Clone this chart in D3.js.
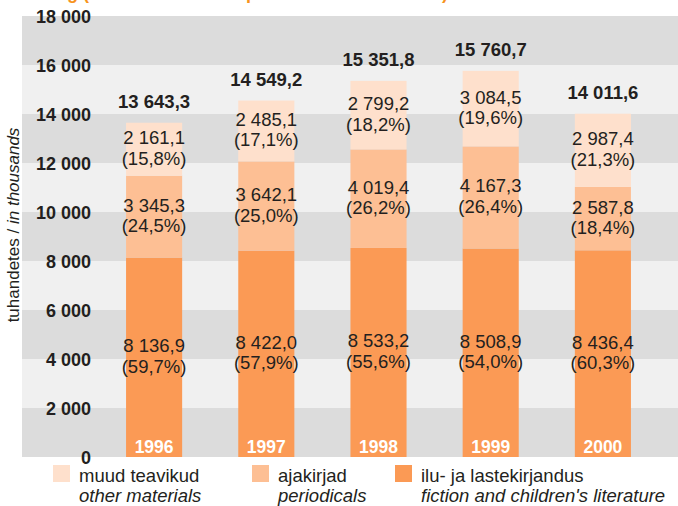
<!DOCTYPE html>
<html>
<head>
<meta charset="utf-8">
<script src="https://cdn.jsdelivr.net/npm/d3@7"></script>
<style>
  body { margin: 0; background: #fff; }
  svg { display: block; font-family: "Liberation Sans", Arial, sans-serif; }
</style>
</head>
<body>
<div id="chart"></div>
<script>
// data (thousands)
var years       = ["1996", "1997", "1998", "1999", "2000"];
var fiction     = [8136.9, 8422.0, 8533.2, 8508.9, 8436.4];
var periodicals = [3345.3, 3642.1, 4019.4, 4167.3, 2587.8];
var other       = [2161.1, 2485.1, 2799.2, 3084.5, 2987.4];
var fictionPct  = [59.7, 57.9, 55.6, 54.0, 60.3];
var periodPct   = [24.5, 25.0, 26.2, 26.4, 18.4];
var otherPct    = [15.8, 17.1, 18.2, 19.6, 21.3];
var totals      = [13643.3, 14549.2, 15351.8, 15760.7, 14011.6];
var yTicks      = [0, 2000, 4000, 6000, 8000, 10000, 12000, 14000, 16000, 18000];

var legendEt = ["muud teavikud", "ajakirjad", "ilu- ja lastekirjandus"];
var legendEn = ["other materials", "periodicals", "fiction and children's literature"];

var W = 678, H = 506;
var textCol = "#231f20";
var colors = {fiction: "#fb9a55", periodicals: "#fdbf94", other: "#fee0cc"};

var loc = d3.formatLocale({decimal: ",", thousands: "\u00a0", grouping: [3], currency: ["", ""]});
var fmtVal = loc.format(",.1f"),
    fmtTick = loc.format(",.0f"),
    fmtPct = loc.format(".1f");

var svg = d3.select("#chart").append("svg")
    .attr("width", W).attr("height", H);

var y = d3.scaleLinear().domain([0, 18000]).range([457, 16]);
var x = d3.scaleBand().domain(years).range([98, 659])
    .paddingInner(0.5).paddingOuter(0.25);

// title, mostly above the top edge as in the original
svg.append("text")
    .attr("x", -36).attr("y", -1)
    .attr("fill", "#f7941d")
    .style("font-size", "18px").style("font-weight", "bold")
    .text("Trükitoodang (tuhandetes eksemplarides / in thousands)");

// background bands
svg.append("g").selectAll("rect")
    .data(yTicks.slice(0, -1))
    .join("rect")
      .attr("x", 22)
      .attr("width", W - 22)
      .attr("y", function(d) { return y(d + 2000); })
      .attr("height", function(d) { return y(d) - y(d + 2000); })
      .attr("fill", function(d, i) { return i % 2 == 0 ? "#dcdcdc" : "#f0f0f0"; });

// y tick labels
svg.append("g").selectAll("text")
    .data(yTicks)
    .join("text")
      .attr("x", 91)
      .attr("y", function(d) { return y(d) + 7; })
      .attr("text-anchor", "end")
      .attr("fill", textCol)
      .style("font-size", "18px").style("font-weight", "bold")
      .text(function(d) { return fmtTick(d); });

// y axis title
var yt = svg.append("text")
    .attr("transform", "translate(19,225) rotate(-90)")
    .attr("text-anchor", "middle")
    .attr("fill", textCol)
    .style("font-size", "17px");
yt.append("tspan").text("tuhandetes / ");
yt.append("tspan").style("font-style", "italic").text("in thousands");

// stacked segments
var rows = years.map(function(yr, i) {
  return [
    {key: "fiction", y0: 0, y1: fiction[i], v: fiction[i], p: fictionPct[i], yr: yr},
    {key: "periodicals", y0: fiction[i], y1: fiction[i] + periodicals[i], v: periodicals[i], p: periodPct[i], yr: yr},
    {key: "other", y0: fiction[i] + periodicals[i], y1: totals[i], v: other[i], p: otherPct[i], yr: yr}
  ];
});
var segs = [].concat.apply([], rows);

svg.append("g").selectAll("rect")
    .data(segs)
    .join("rect")
      .attr("x", function(d) { return x(d.yr); })
      .attr("width", x.bandwidth())
      .attr("y", function(d) { return y(d.y1); })
      .attr("height", function(d) { return y(d.y0) - y(d.y1); })
      .attr("fill", function(d) { return colors[d.key]; });

// segment labels: value and share
var lab = svg.append("g").selectAll("text")
    .data(segs)
    .join("text")
      .attr("text-anchor", "middle")
      .attr("fill", textCol)
      .style("font-size", "18.5px");
lab.append("tspan")
    .attr("x", function(d) { return x(d.yr) + x.bandwidth() / 2; })
    .attr("y", function(d) { return (y(d.y0) + y(d.y1)) / 2 - 5; })
    .text(function(d) { return fmtVal(d.v); });
lab.append("tspan")
    .attr("x", function(d) { return x(d.yr) + x.bandwidth() / 2; })
    .attr("y", function(d) { return (y(d.y0) + y(d.y1)) / 2 + 15.5; })
    .text(function(d) { return "(" + fmtPct(d.p) + "%)"; });

// totals
svg.append("g").selectAll("text")
    .data(years)
    .join("text")
      .attr("x", function(d) { return x(d) + x.bandwidth() / 2; })
      .attr("y", function(d, i) { return y(totals[i]) - 14.5; })
      .attr("text-anchor", "middle")
      .attr("fill", textCol)
      .style("font-size", "18.5px").style("font-weight", "bold")
      .text(function(d, i) { return fmtVal(totals[i]); });

// year labels inside bars
svg.append("g").selectAll("text")
    .data(years)
    .join("text")
      .attr("x", function(d) { return x(d) + x.bandwidth() / 2; })
      .attr("y", y(0) - 4)
      .attr("text-anchor", "middle")
      .attr("fill", "#fff")
      .style("font-size", "17.5px").style("font-weight", "bold")
      .text(function(d) { return d; });

// legend
var legX = [53, 252, 395];
var legKeys = ["other", "periodicals", "fiction"];
var leg = svg.append("g").selectAll("g")
    .data(legKeys)
    .join("g")
      .attr("transform", function(d, i) { return "translate(" + legX[i] + ",465)"; });
leg.append("rect")
    .attr("width", 17).attr("height", 17)
    .attr("fill", function(d) { return colors[d]; });
leg.append("text")
    .attr("x", 26).attr("y", 17)
    .attr("fill", textCol)
    .style("font-size", "18.5px")
    .text(function(d, i) { return legendEt[i]; });
leg.append("text")
    .attr("x", 26).attr("y", 37)
    .attr("fill", textCol)
    .style("font-size", "18.5px").style("font-style", "italic")
    .text(function(d, i) { return legendEn[i]; });
</script>
</body>
</html>
